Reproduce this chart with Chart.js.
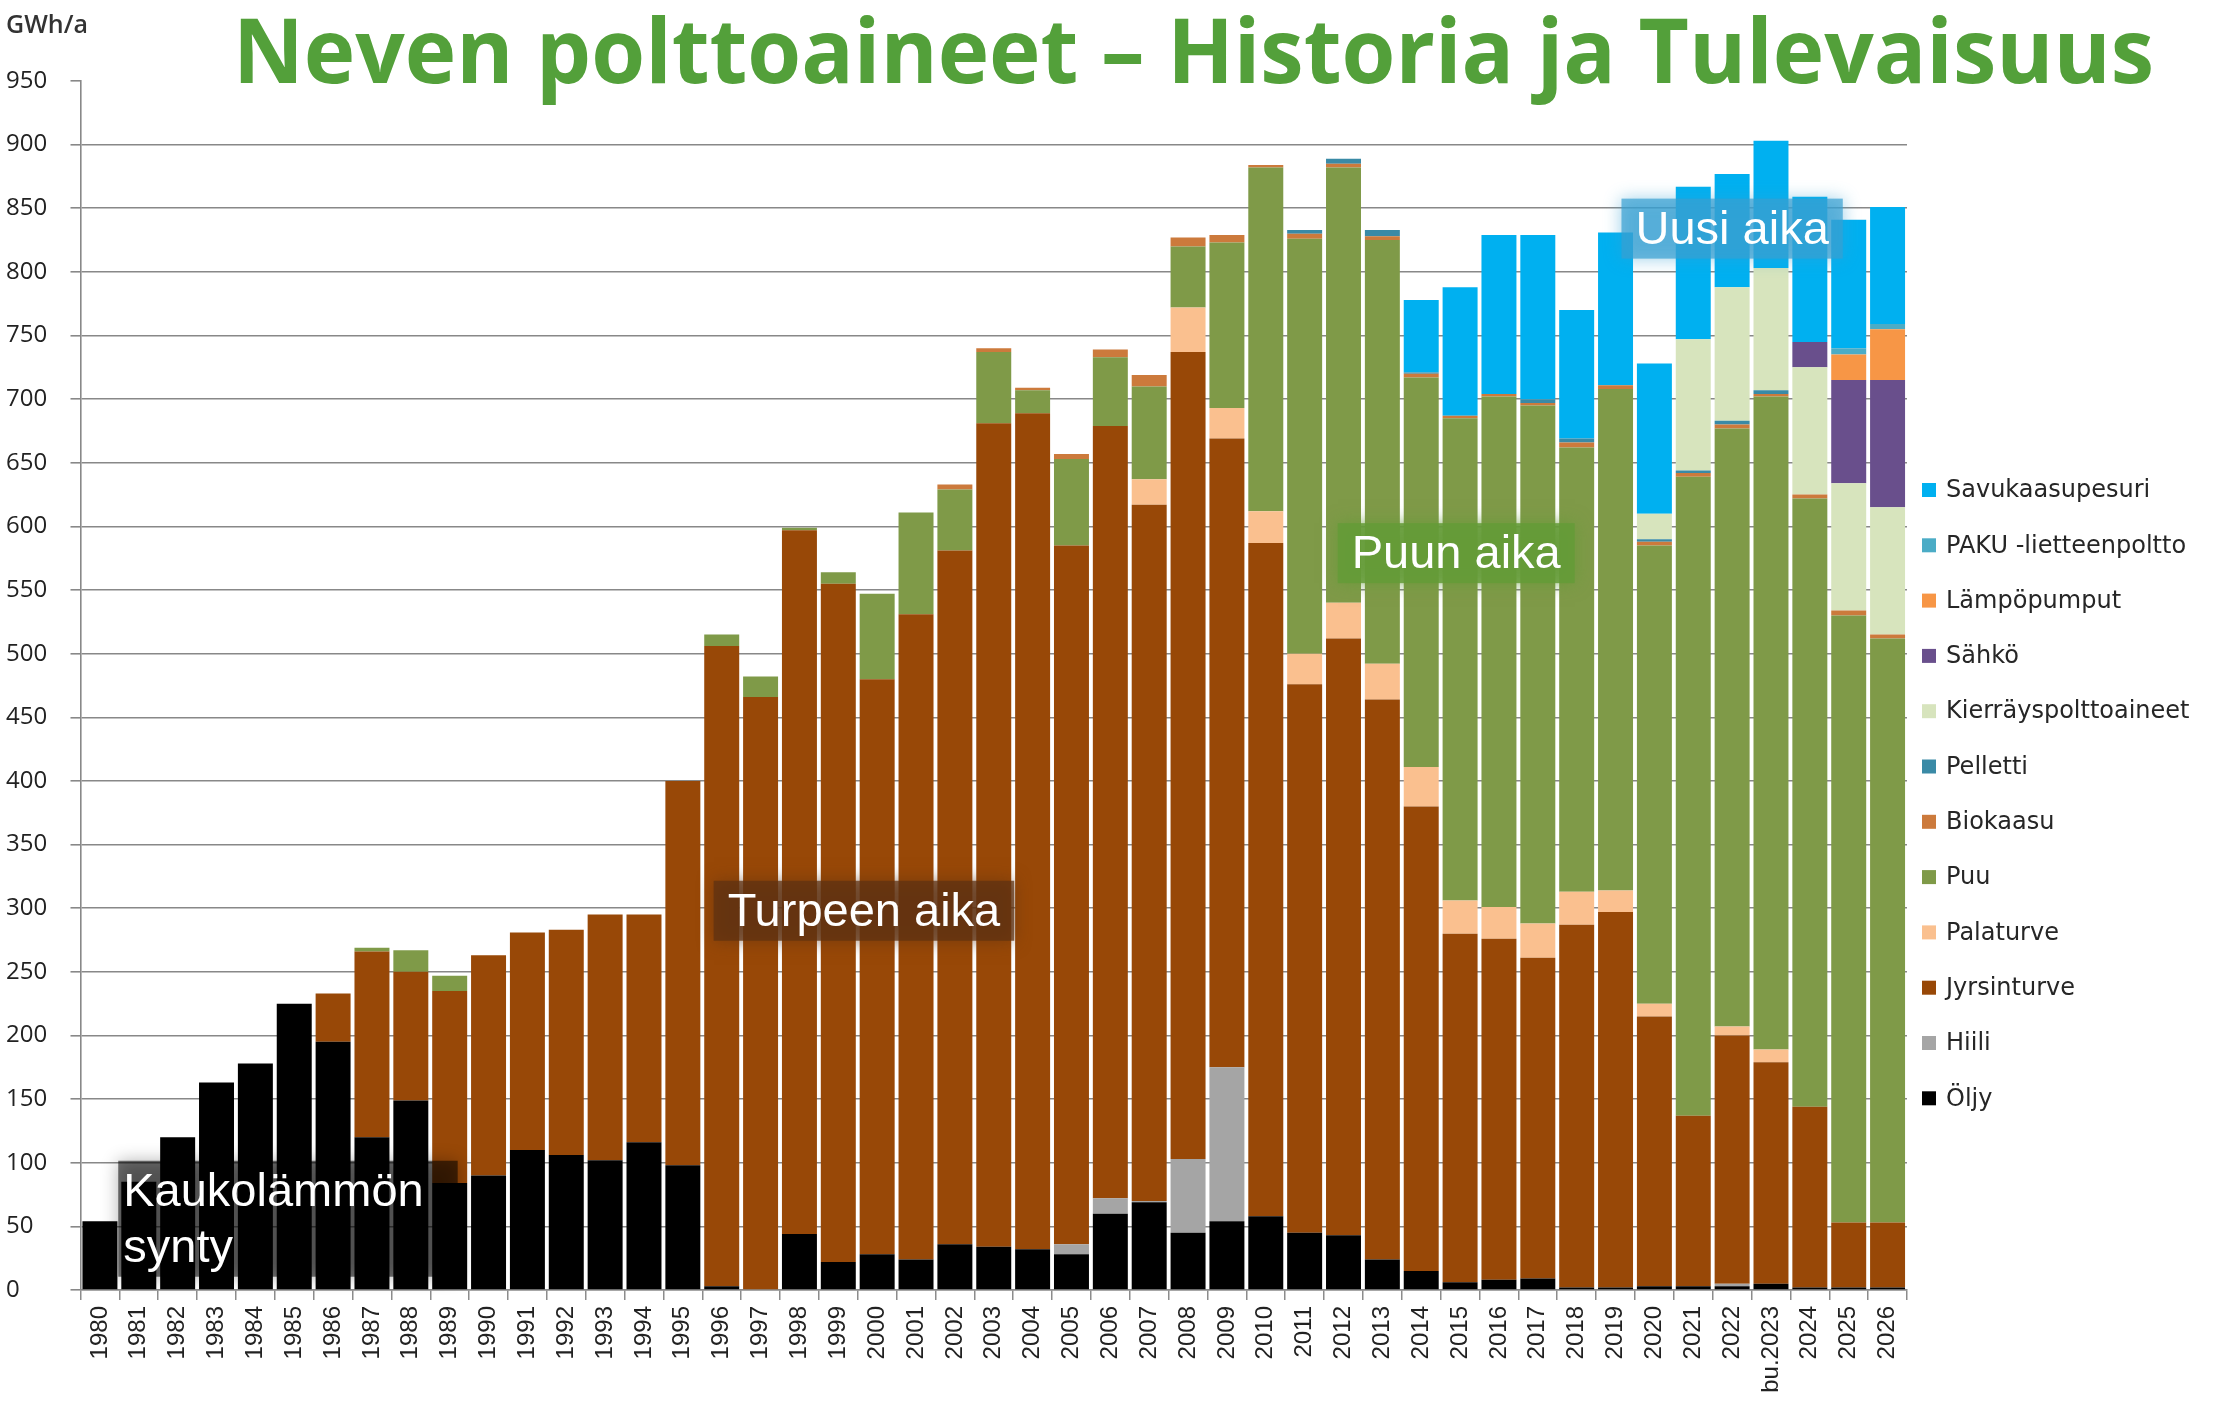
<!DOCTYPE html>
<html lang="fi">
<head>
<meta charset="utf-8">
<title>Neven polttoaineet</title>
<script src="https://cdn.jsdelivr.net/npm/chart.js@4.4.1/dist/chart.umd.min.js"></script>
<style>
  html, body { margin: 0; padding: 0; background: #fff; }
  #wrap { width: 2215px; height: 1411px; position: relative; }
</style>
</head>
<body>
<div id="wrap"><canvas id="fuelChart"></canvas></div>
<script>
// DATA (GWh/a)

const years = ["1980", "1981", "1982", "1983", "1984", "1985", "1986", "1987", "1988", "1989",
  "1990", "1991", "1992", "1993", "1994", "1995", "1996", "1997", "1998", "1999",
  "2000", "2001", "2002", "2003", "2004", "2005", "2006", "2007", "2008", "2009",
  "2010", "2011", "2012", "2013", "2014", "2015", "2016", "2017", "2018", "2019",
  "2020", "2021", "2022", "bu.2023", "2024", "2025", "2026"];

const yTicks = [0, 50, 100, 150, 200, 250, 300, 350, 400, 450, 500, 550, 600, 650, 700, 750, 800, 850, 900, 950];

const oljy = [54, 85, 120, 163, 178, 225, 195, 120, 149, 84,
  90, 110, 106, 102, 116, 98, 3, 0, 44, 22,
  28, 24, 36, 34, 32, 28, 60, 69, 45, 54,
  58, 45, 43, 24, 15, 6, 8, 9, 2, 2,
  3, 3, 3, 5, 2, 2, 2];

const hiili = [0, 0, 0, 0, 0, 0, 0, 0, 0, 0,
  0, 0, 0, 0, 0, 0, 0, 0, 0, 0,
  0, 0, 0, 0, 0, 8, 12, 1, 58, 121,
  0, 0, 0, 0, 0, 0, 0, 0, 0, 0,
  0, 0, 2, 0, 0, 0, 0];

const jyrsinturve = [0, 0, 0, 0, 0, 0, 38, 146, 101, 151,
  173, 171, 177, 193, 179, 302, 503, 466, 553, 533,
  452, 507, 545, 647, 657, 549, 607, 547, 634, 494,
  529, 431, 469, 440, 365, 274, 268, 252, 285, 295,
  212, 134, 195, 174, 142, 51, 51];

const palaturve = [0, 0, 0, 0, 0, 0, 0, 0, 0, 0,
  0, 0, 0, 0, 0, 0, 0, 0, 0, 0,
  0, 0, 0, 0, 0, 0, 0, 20, 35, 24,
  25, 24, 28, 28, 31, 26, 25, 27, 26, 17,
  10, 0, 7, 10, 0, 0, 0];

const puu = [0, 0, 0, 0, 0, 0, 0, 3, 17, 12,
  0, 0, 0, 0, 0, 0, 9, 16, 2, 9,
  67, 80, 48, 56, 18, 68, 54, 73, 48, 130,
  270, 326, 342, 333, 306, 379, 401, 407, 349, 394,
  360, 502, 470, 513, 478, 477, 459];

const biokaasu = [0, 0, 0, 0, 0, 0, 0, 0, 0, 0,
  0, 0, 0, 0, 0, 0, 0, 0, 0, 0,
  0, 0, 4, 3, 2, 4, 6, 9, 7, 6,
  2, 4, 3, 3, 3, 2, 2, 2, 4, 3,
  3, 3, 3, 2, 3, 4, 3];

const pelletti = [0, 0, 0, 0, 0, 0, 0, 0, 0, 0,
  0, 0, 0, 0, 0, 0, 0, 0, 0, 0,
  0, 0, 0, 0, 0, 0, 0, 0, 0, 0,
  0, 3, 4, 5, 1, 0, 0, 3, 3, 0,
  2, 2, 3, 3, 0, 0, 0];

const kierratys = [0, 0, 0, 0, 0, 0, 0, 0, 0, 0,
  0, 0, 0, 0, 0, 0, 0, 0, 0, 0,
  0, 0, 0, 0, 0, 0, 0, 0, 0, 0,
  0, 0, 0, 0, 0, 0, 0, 0, 0, 0,
  20, 103, 105, 96, 100, 100, 100];

const sahko = [0, 0, 0, 0, 0, 0, 0, 0, 0, 0,
  0, 0, 0, 0, 0, 0, 0, 0, 0, 0,
  0, 0, 0, 0, 0, 0, 0, 0, 0, 0,
  0, 0, 0, 0, 0, 0, 0, 0, 0, 0,
  0, 0, 0, 0, 20, 81, 100];

const lampopumput = [0, 0, 0, 0, 0, 0, 0, 0, 0, 0,
  0, 0, 0, 0, 0, 0, 0, 0, 0, 0,
  0, 0, 0, 0, 0, 0, 0, 0, 0, 0,
  0, 0, 0, 0, 0, 0, 0, 0, 0, 0,
  0, 0, 0, 0, 0, 20, 40];

const paku = [0, 0, 0, 0, 0, 0, 0, 0, 0, 0,
  0, 0, 0, 0, 0, 0, 0, 0, 0, 0,
  0, 0, 0, 0, 0, 0, 0, 0, 0, 0,
  0, 0, 0, 0, 0, 0, 0, 0, 0, 0,
  0, 0, 0, 0, 0, 5, 4];

const savukaasupesuri = [0, 0, 0, 0, 0, 0, 0, 0, 0, 0,
  0, 0, 0, 0, 0, 0, 0, 0, 0, 0,
  0, 0, 0, 0, 0, 0, 0, 0, 0, 0,
  0, 0, 0, 0, 57, 101, 125, 129, 101, 120,
  118, 120, 89, 100, 114, 101, 92];


// SERIES (bottom of the stack first)

const series = [
  { label: "Öljy", data: oljy, color: "#000000" },
  { label: "Hiili", data: hiili, color: "#a5a5a5" },
  { label: "Jyrsinturve", data: jyrsinturve, color: "#984807" },
  { label: "Palaturve", data: palaturve, color: "#fac08f" },
  { label: "Puu", data: puu, color: "#7f9a48" },
  { label: "Biokaasu", data: biokaasu, color: "#cc7a3c" },
  { label: "Pelletti", data: pelletti, color: "#3a8aa6" },
  { label: "Kierräyspolttoaineet", data: kierratys, color: "#d7e4bd" },
  { label: "Sähkö", data: sahko, color: "#694f8c" },
  { label: "Lämpöpumput", data: lampopumput, color: "#f79646" },
  { label: "PAKU -lietteenpoltto", data: paku, color: "#4bacc6" },
  { label: "Savukaasupesuri", data: savukaasupesuri, color: "#00b0f0" }
];


// TEXT BOXES ON THE BARS (anchored to category index / value)

const notes = [
  { lines: ["Kaukolämmön", "synty"], at: 0.6, values: [78, 34], align: "left", box: "rgba(0,0,0,0.55)", padL: 5, padR: 34 },
  { lines: ["Turpeen aika"], at: 19.66, values: [298], align: "center", box: "rgba(95,50,18,0.75)", padL: 14, padR: 14 },
  { lines: ["Puun aika"], at: 34.9, values: [579], align: "center", box: "rgba(100,155,55,0.85)", padL: 14, padR: 14 },
  { lines: ["Uusi aika"], at: 42.0, values: [834], align: "center", box: "rgba(55,160,210,0.7)", padL: 14, padR: 14 }
];

const noteFont = "47px 'Liberation Sans', Arial, sans-serif";

const overlay = {
  id: "overlay",

  afterDatasetsDraw(chart) {
    const { ctx } = chart;
    const x = chart.scales.x;
    const y = chart.scales.y;

    ctx.save();
    ctx.font = noteFont;
    ctx.textBaseline = "middle";

    notes.forEach(n => {
      const px = x.getPixelForValue(n.at);
      const widths = n.lines.map(l => ctx.measureText(l).width);
      const w = Math.max(...widths);
      const ys = n.values.map(v => y.getPixelForValue(v));
      const left = n.align === "left" ? px : px - w / 2;
      const top = Math.min(...ys) - 30;
      const bottom = Math.max(...ys) + 30;

      ctx.save();
      ctx.shadowColor = n.box;
      ctx.shadowBlur = 16;
      ctx.fillStyle = n.box;
      ctx.fillRect(left - n.padL, top, w + n.padL + n.padR, bottom - top);
      ctx.restore();

      ctx.fillStyle = "#ffffff";
      ctx.textAlign = "left";
      n.lines.forEach((l, i) => ctx.fillText(l, left, ys[i] + 2));
    });

    ctx.restore();
  },

  afterDraw(chart) {
    const { ctx, chartArea } = chart;

    // title
    const title = "Neven polttoaineet – Historia ja Tulevaisuus";
    ctx.save();
    ctx.font = "bold 90px 'Open Sans', sans-serif";
    const tw = ctx.measureText(title).width;
    ctx.translate(233, 83);
    ctx.scale(1921 / tw, 1);
    ctx.fillStyle = "#53a03a";
    ctx.textBaseline = "alphabetic";
    ctx.fillText(title, 0, 0);
    ctx.restore();

    // unit
    ctx.save();
    ctx.font = "600 25px 'Open Sans', sans-serif";
    ctx.fillStyle = "#333333";
    ctx.textBaseline = "alphabetic";
    ctx.fillText("GWh/a", 6, 33);
    ctx.restore();

    // legend (top of the stack first)
    ctx.save();
    ctx.font = "24px 'DejaVu Sans', sans-serif";
    ctx.textBaseline = "middle";
    const items = chart.data.datasets.slice().reverse();
    items.forEach((ds, i) => {
      const cy = 490 + i * 55.3;
      const bx = chartArea.right + 15;
      ctx.fillStyle = ds.backgroundColor;
      ctx.fillRect(bx, cy - 7, 14, 14);
      ctx.fillStyle = "#262626";
      ctx.fillText(ds.label, bx + 24, cy + 1);
    });
    ctx.restore();
  }
};


// CHART

const fuelChart = document.getElementById("fuelChart");

new Chart(fuelChart, {
  type: "bar",
  data: {
    labels: years,
    datasets: series.map(s => ({
      label: s.label,
      data: s.data,
      backgroundColor: s.color,
      borderWidth: 0,
      barPercentage: 0.9,
      categoryPercentage: 1.0
    }))
  },
  options: {
    responsive: true,
    maintainAspectRatio: false,
    animation: false,
    layout: {
      padding: { top: 81, right: 308, left: 6, bottom: 0 }
    },
    plugins: {
      legend: { display: false },
      tooltip: { enabled: false }
    },
    scales: {
      x: {
        stacked: true,
        afterFit: s => { s.height = 121; },
        grid: {
          offset: true,
          drawOnChartArea: false,
          tickLength: 10,
          color: "#8c8c8c",
          lineWidth: 1.5
        },
        border: { color: "#8c8c8c", width: 1.5 },
        ticks: {
          autoSkip: false,
          minRotation: 90,
          maxRotation: 90,
          padding: 6,
          color: "#222222",
          font: { family: "'Liberation Sans', Arial, sans-serif", size: 24 }
        }
      },
      y: {
        stacked: true,
        min: 0,
        max: 950,
        afterFit: s => { s.width = 74.5; },
        afterBuildTicks: s => { s.ticks = yTicks.map(v => ({ value: v })); },
        grid: {
          color: c => (c.tick && c.tick.value === 950) ? "rgba(0,0,0,0)" : "#888888",
          tickColor: "#888888",
          tickLength: 10,
          lineWidth: 1.6
        },
        border: { color: "#888888", width: 1.6 },
        ticks: {
          crossAlign: "far",
          color: "#222222",
          font: { family: "'Open Sans', sans-serif", size: 24 }
        }
      }
    }
  },
  plugins: [overlay]
});
</script>
</body>
</html>
